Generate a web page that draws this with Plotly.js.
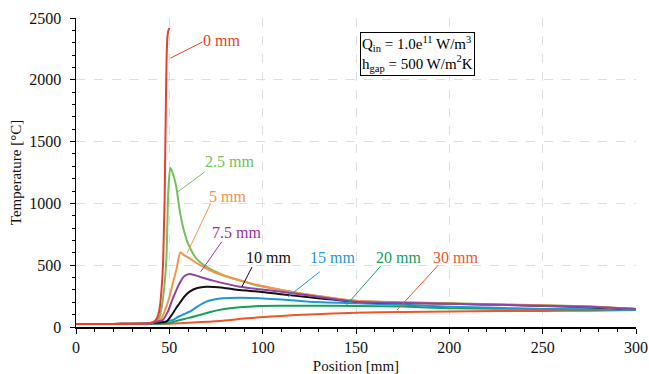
<!DOCTYPE html>
<html>
<head>
<meta charset="utf-8">
<script src="https://cdn.plot.ly/plotly-3.0.1.min.js"></script>
<style>
  html, body { margin: 0; padding: 0; background: #fff; }
  #chart { width: 649px; height: 374px; }
</style>
</head>
<body>
<div id="chart"></div>
<script>
// Temperature profiles along the position axis for several gap sizes
const gapLabels = ['0 mm', '2.5 mm', '5 mm', '7.5 mm', '10 mm', '15 mm', '20 mm', '30 mm'];
const lineColors = ['#e8402a', '#72c15a', '#f5934d', '#8e44a6', '#111111', '#1f97d4', '#18a05c', '#f0552a'];
const labelColors = ['#e8402a', '#72c15a', '#f5934d', '#9b30a0', '#111111', '#1f97d4', '#18a05c', '#f0552a'];

const x0mm = [0, 10, 20, 30, 35, 38, 40, 42, 43, 44, 45, 45.8, 46.6, 47.1, 47.5, 47.8, 48.1, 48.5, 49, 49.5, 50.1];
const t0mm = [25, 25, 25, 26, 27, 29, 33, 45, 62, 95, 170, 300, 500, 800, 1050, 1400, 1750, 2150, 2350, 2400, 2420];

const x25mm = [0, 10, 20, 30, 35, 38, 40, 42, 43.5, 44.8, 46.5, 48.4, 49.4, 50.5, 51.5, 53.7, 55.5, 57.3, 60, 64.4, 69.8, 78.7, 87.7, 98.4, 110, 125, 150, 175, 200, 225, 250, 275, 300];
const t25mm = [25, 25, 25, 26, 27, 29, 33, 42, 55, 83, 218, 542, 1082, 1286, 1260, 1135, 947, 811, 677, 556, 488, 421, 375, 332, 300, 262, 212, 200, 192, 183, 176, 165, 145];

const x5mm = [0, 10, 20, 30, 35, 38, 40, 42, 43.5, 45.7, 48.4, 50, 51.9, 54, 55.9, 58, 60.9, 66.2, 73.4, 84.1, 98.4, 110, 125, 150, 175, 200, 225, 250, 275, 300];
const t5mm = [25, 25, 25, 26, 27, 29, 33, 42, 52, 70, 164, 240, 354, 480, 604, 580, 556, 502, 447, 394, 335, 300, 262, 212, 198, 190, 182, 175, 165, 145];

const x75mm = [0, 10, 20, 30, 35, 38, 40, 42, 43.5, 46.5, 49.2, 51.9, 55.5, 58, 60.9, 66.2, 73.4, 87.7, 98.4, 110, 125, 150, 175, 200, 225, 250, 275, 300];
const t75mm = [25, 25, 25, 26, 27, 29, 32, 38, 45, 57, 124, 232, 354, 410, 429, 407, 375, 326, 305, 285, 255, 205, 195, 188, 180, 172, 163, 145];

const x10mm = [0, 10, 20, 30, 35, 40, 44, 46.5, 48.4, 50, 51.9, 53.5, 55.5, 58, 60.9, 65, 69.8, 78.7, 87.7, 98.4, 110, 125, 150, 175, 200, 225, 250, 275, 300];
const t10mm = [25, 25, 25, 26, 27, 30, 35, 38, 43, 70, 111, 150, 192, 245, 286, 315, 326, 318, 299, 286, 265, 240, 205, 195, 188, 180, 170, 160, 145];

const x15mm = [0, 10, 20, 30, 35, 40, 45, 48, 51.9, 55, 58, 60.9, 65, 69.8, 74, 78.7, 87.7, 98.4, 110, 125, 150, 175, 200, 225, 250, 275, 300];
const t15mm = [25, 25, 25, 25, 26, 28, 35, 45, 57, 85, 105, 124, 165, 205, 222, 232, 237, 232, 222, 205, 192, 180, 164, 155, 146, 143, 140];

const x20mm = [0, 10, 20, 30, 40, 45, 50, 55.5, 60, 66.2, 72, 78.7, 87.7, 98.4, 110, 125, 150, 175, 200, 225, 250, 275, 300];
const t20mm = [25, 25, 25, 25, 26, 27, 32, 57, 72, 97, 122, 143, 159, 170, 172, 172, 170, 165, 151, 148, 146, 142, 140];

const x30mm = [0, 10, 20, 30, 40, 50, 55.5, 65, 78.7, 90, 98.4, 110, 125, 150, 175, 200, 225, 250, 275, 300];
const t30mm = [25, 25, 25, 25, 25, 27, 30, 38, 51, 68, 78, 90, 102, 116, 122, 125, 129, 130, 132, 137];

const seriesX = [x0mm, x25mm, x5mm, x75mm, x10mm, x15mm, x20mm, x30mm];
const seriesT = [t0mm, t25mm, t5mm, t75mm, t10mm, t15mm, t20mm, t30mm];

// Label positions and leader lines (data coordinates)
const labelX = [78.0, 82.3, 81.2, 86.1, 103.2, 137.5, 172.9, 203.2];
const labelT = [2322, 1335, 1052, 761, 566, 566, 566, 566];
const leadStartX = [50.7, 54.4, 59.6, 66.8, 88.9, 113.6, 144.9, 172.0];
const leadStartT = [2176, 1092, 601, 447, 326, 245, 178, 138];
const leadEndX = [67.8, 68.9, 72.0, 78.0, 94.3, 130.6, 163.3, 194.0];
const leadEndT = [2306, 1254, 995, 688, 485, 447, 494, 499];

const noteText = 'Q<sub>in</sub> = 1.0e<sup>11</sup> W/m<sup>3</sup><br>h<sub>gap</sub> = 500 W/m<sup>2</sup>K';
const noteX = 182.8;
const noteT = 2209;

const serif = '"Liberation Serif", "Times New Roman", Times, serif';

const drawOrder = [7, 6, 5, 4, 1, 2, 3, 0];
const traces = drawOrder.map(i => ({
  x: seriesX[i],
  y: seriesT[i],
  type: 'scatter',
  mode: 'lines',
  name: gapLabels[i],
  line: { color: lineColors[i], width: 2, shape: 'spline', smoothing: 0.6 },
  hoverinfo: 'skip'
}));

const shapes = gapLabels.map((_, i) => ({
  type: 'line', xref: 'x', yref: 'y',
  x0: leadStartX[i], y0: leadStartT[i], x1: leadEndX[i], y1: leadEndT[i],
  line: { color: labelColors[i], width: 1 }
}));

const annotations = gapLabels.map((lab, i) => ({
  x: labelX[i], y: labelT[i], xref: 'x', yref: 'y',
  text: lab, showarrow: false, xanchor: 'center', yanchor: 'middle',
  font: { family: serif, size: 16, color: labelColors[i] }
}));
annotations.push({
  x: noteX, y: noteT, xref: 'x', yref: 'y',
  text: noteText, showarrow: false, xanchor: 'center', yanchor: 'middle', align: 'left',
  bordercolor: '#000', borderwidth: 1, borderpad: 1, bgcolor: '#fff',
  font: { family: serif, size: 15, color: '#000' }
});

const axisFont = { family: serif, size: 16, color: '#111' };

const layout = {
  width: 649, height: 374,
  margin: { l: 76, r: 13, t: 18, b: 47 },
  paper_bgcolor: '#fff', plot_bgcolor: '#fff',
  showlegend: false,
  font: { family: serif, color: '#111' },
  xaxis: {
    range: [0, 300], dtick: 50, tick0: 0,
    showline: true, linecolor: '#000', linewidth: 1.5,
    ticks: 'outside', ticklen: 5, tickcolor: '#000',
    showgrid: true, gridcolor: '#dedede', griddash: 'dash', gridwidth: 1,
    zeroline: false, tickfont: axisFont,
    minor: { dtick: 10, ticks: 'outside', ticklen: 3, tickcolor: '#000', showgrid: false },
    title: { text: 'Position [mm]', font: { family: serif, size: 15, color: '#111' }, standoff: 6 }
  },
  yaxis: {
    range: [0, 2500], dtick: 500, tick0: 0,
    showline: true, linecolor: '#000', linewidth: 1.5,
    ticks: 'outside', ticklen: 5, tickcolor: '#000', ticklabelstandoff: 5,
    showgrid: true, gridcolor: '#dedede', griddash: 'dash', gridwidth: 1,
    zeroline: false, tickfont: axisFont,
    minor: { dtick: 100, ticks: 'outside', ticklen: 3, tickcolor: '#000', showgrid: false },
    title: { text: 'Temperature [°C]', font: { family: serif, size: 15, color: '#111' }, standoff: 4 }
  },
  shapes: shapes,
  annotations: annotations
};

Plotly.newPlot('chart', traces, layout, { staticPlot: true, displayModeBar: false });
</script>
</body>
</html>
